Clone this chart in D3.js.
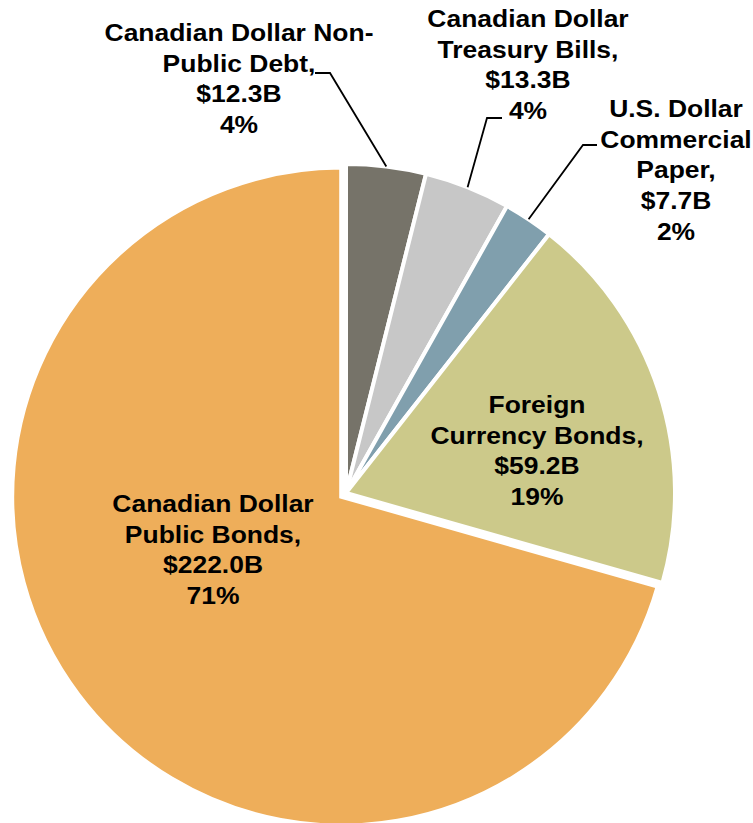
<!DOCTYPE html>
<html>
<head>
<meta charset="utf-8">
<script src="https://cdn.jsdelivr.net/npm/d3@7"></script>
<style>
  html, body { margin: 0; padding: 0; background: #ffffff; }
  svg { display: block; }
  text { font-family: "Liberation Sans", Arial, sans-serif; font-weight: bold; fill: #000; }
</style>
</head>
<body>
<svg id="chart" width="753" height="823"></svg>
<script>
// Portfolio composition, billions of dollars
const categories = [
  "Canadian Dollar Non-Public Debt",
  "Canadian Dollar Treasury Bills",
  "U.S. Dollar Commercial Paper",
  "Foreign Currency Bonds",
  "Canadian Dollar Public Bonds"
];
const values = [12.3, 13.3, 7.7, 59.2, 222.0];
const nameLines = [
  ["Canadian Dollar Non-", "Public Debt,"],
  ["Canadian Dollar", "Treasury Bills,"],
  ["U.S. Dollar", "Commercial", "Paper,"],
  ["Foreign", "Currency Bonds,"],
  ["Canadian Dollar", "Public Bonds,"]
];
const colors = ["#767369", "#c7c7c7", "#809fad", "#ccc98a", "#eeae5a"];

// Layout
const cx = 346, cy = 493, R = 329;
const explodeIndex = 4, explodeDist = 6;
const lineH = 30.7, fontSize = 24.5, stretch = 1.08;
// label block anchors: centre x, first baseline y
const labelPos = [[239, 41], [528, 27], [676, 117], [537, 413], [213, 512]];
// leader lines: [start x, elbow x, y] (null = label sits inside its slice)
const leaders = [[315, 330, 73], [502, 487, 118], [597, 583, 145], null, null];

const total = d3.sum(values);
const svg = d3.select("#chart");

const pie = d3.pie().sort(null).value(d => d).startAngle(0).endAngle(2 * Math.PI);
const arcs = pie(values);
const arc = d3.arc().innerRadius(0).outerRadius(R);

const g = svg.append("g").attr("transform", `translate(${cx},${cy})`);

g.selectAll("path.slice")
  .data(arcs)
  .join("path")
  .attr("class", "slice")
  .attr("d", arc)
  .attr("fill", (d, i) => colors[i])
  .attr("stroke", "#ffffff")
  .attr("stroke-width", 4)
  .attr("stroke-linejoin", "miter")
  .attr("transform", (d, i) => {
    if (i !== explodeIndex) return null;
    const a = (d.startAngle + d.endAngle) / 2;
    return `translate(${explodeDist * Math.sin(a)},${-explodeDist * Math.cos(a)})`;
  });

// leader lines from label to the middle of the slice's outer edge
arcs.forEach((d, i) => {
  const L = leaders[i];
  if (!L) return;
  const a = (d.startAngle + d.endAngle) / 2;
  const px = cx + R * Math.sin(a), py = cy - R * Math.cos(a);
  svg.append("polyline")
    .attr("points", `${L[0]},${L[2]} ${L[1]},${L[2]} ${px},${py}`)
    .attr("fill", "none")
    .attr("stroke", "#000")
    .attr("stroke-width", 1.8);
});

// data labels: name, value, share
arcs.forEach((d, i) => {
  const lines = nameLines[i].concat([
    "$" + values[i].toFixed(1) + "B",
    Math.round(values[i] / total * 100) + "%"
  ]);
  const [lx, ly] = labelPos[i];
  const t = svg.append("g")
    .attr("transform", `translate(${lx},${ly}) scale(${stretch},1)`)
    .append("text")
    .attr("text-anchor", "middle")
    .attr("font-size", fontSize);
  t.selectAll("tspan")
    .data(lines)
    .join("tspan")
    .attr("x", 0)
    .attr("y", (s, k) => k * lineH)
    .text(s => s);
});
</script>
</body>
</html>
